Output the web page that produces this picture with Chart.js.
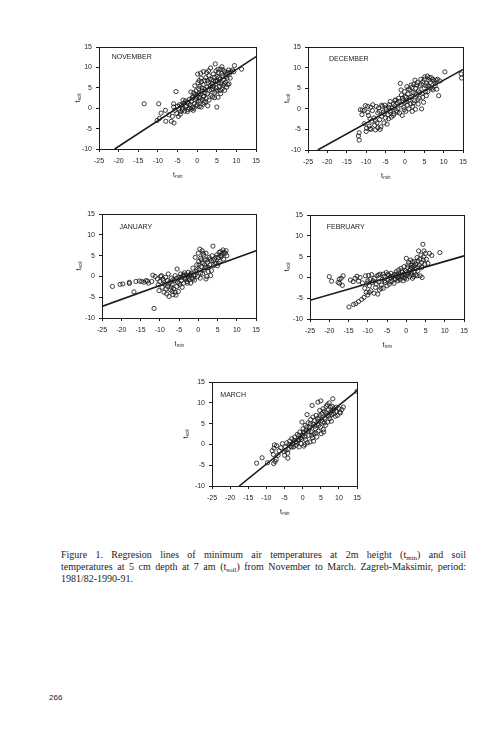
<!DOCTYPE html>
<html><head><meta charset="utf-8">
<script src="https://cdn.jsdelivr.net/npm/chart.js@4"></script>
<style>
html,body{margin:0;padding:0;background:#fff;}
body{width:504px;height:733px;position:relative;overflow:hidden;}
.box{position:absolute;}
.caption{position:absolute;left:61px;top:549px;width:405px;font-family:"Liberation Serif","Times New Roman",serif;font-size:10px;line-height:12px;color:#1c1c1c;}
.caption .j{text-align:justify;text-align-last:justify;}
.caption sub{font-size:7px;line-height:0;vertical-align:-2px;}
.page{position:absolute;left:49px;top:693px;font-family:"Liberation Sans",Arial,sans-serif;font-size:8px;color:#1c1c1c;}
</style></head>
<body>
<div class="caption">
<div class="j">Figure 1. Regresion lines of minimum air temperatures at 2m height (t<sub>min</sub>) and soil</div>
<div class="j">temperatures at 5 cm depth at 7 am (t<sub>soil</sub>) from November to March. Zagreb-Maksimir, period:</div>
<div>1981/82-1990-91.</div>
</div>
<div class="page">266</div>
<script>
const xTicks = [-25,-20,-15,-10,-5,0,5,10,15];
const yTicks = [-10,-5,0,5,10,15];
const months = ['NOVEMBER','DECEMBER','JANUARY','FEBRUARY','MARCH'];

const novPoints = [[-13.5,1.1],[-9.8,1.1],[-5.4,4.1],[-10.2,-3.0],[-9.6,-2.5],[-9.2,-1.2],[-8.1,-0.5],[-8.0,-3.2],[-6.6,-3.2],[-5.9,-3.6],[-6.3,-2.0],[-6.0,1.1],[-6.0,0.3],[-5.7,-0.5],[-5.2,-1.3],[-5.0,0.5],[-4.6,-0.2],[-4.3,-1.5],[-4.0,0.8],[-3.7,0.0],[-3.4,1.3],[-3.2,-0.7],[-3.0,1.8],[-2.7,0.6],[-2.5,1.5],[-2.3,-0.3],[-2.0,2.2],[-1.8,0.9],[-1.6,4.0],[-1.5,1.6],[-1.2,0.2],[-1.0,2.8],[-0.9,3.8],[-0.7,1.2],[-0.5,2.0],[-0.3,4.3],[-0.2,0.6],[0.0,3.0],[0.1,8.4],[0.2,6.3],[0.3,1.8],[0.4,4.8],[0.5,0.4],[0.6,2.6],[0.7,5.3],[0.8,3.5],[0.9,8.6],[1.0,0.3],[1.1,6.5],[1.2,2.2],[1.3,4.2],[1.5,5.8],[1.6,9.0],[1.7,3.0],[1.8,1.4],[1.9,6.8],[2.0,4.6],[2.2,7.5],[2.3,2.4],[2.5,5.2],[2.6,3.6],[2.8,6.2],[3.0,8.0],[3.1,4.4],[3.3,5.6],[3.4,9.9],[3.5,3.2],[3.7,7.0],[3.8,6.0],[4.0,4.8],[4.1,8.4],[4.2,5.4],[4.4,7.6],[4.5,3.8],[4.6,10.9],[4.7,6.6],[4.8,9.2],[4.9,5.0],[5.0,0.3],[5.1,7.8],[5.2,4.4],[5.3,2.7],[5.4,8.8],[5.5,6.2],[5.6,5.4],[5.8,7.2],[6.0,9.6],[6.1,6.0],[6.3,10.2],[6.4,4.8],[6.5,8.0],[6.6,5.6],[6.8,7.0],[7.0,9.0],[7.2,6.4],[7.4,8.4],[7.6,7.4],[7.8,5.8],[8.1,6.0],[8.0,9.4],[8.3,8.6],[8.6,9.0],[9.0,9.4],[9.3,9.0],[9.5,10.5],[11.3,9.6],[-2.0,0.0],[-1.0,-0.5],[-4.8,-2.0],[-7.2,-1.6],[0.0,0.8],[1.5,1.0],[2.7,0.6],[3.9,2.8],[6.0,3.6],[7.0,4.4],[-0.6,5.5],[2.4,8.8],
  [-4.5,0.9],[-3.8,-0.4],[-3.0,0.4],[-2.5,-0.8],[-1.5,-0.2],[-0.8,0.0],[-0.2,2.4],[0.4,3.6],[0.8,1.8],[1.2,5.0],[1.6,2.8],[2.0,3.8],[2.2,1.6],[2.6,6.8],[3.0,2.0],[3.3,7.2],[3.6,4.6],[3.9,5.4],[4.2,6.8],[4.4,2.6],[4.8,4.2],[5.0,6.6],[5.3,9.6],[5.6,7.6],[5.9,4.4],[6.2,8.6],[6.6,9.4],[6.9,6.0],[7.2,7.8],[7.5,5.2],[7.8,8.8],[8.4,7.4],[2.9,9.2],[1.0,7.4],[0.5,6.8],[-0.4,3.4],[-1.3,2.6],[-2.2,1.2],[-3.6,2.0],[-4.2,-0.8]];
const decPoints = [[-11.8,-5.8],[-11.8,-7.6],[-11.0,-0.3],[-11.1,-1.4],[-10.5,-0.4],[-9.6,0.6],[-8.3,1.0],[-9.6,-0.8],[-9.9,-4.7],[-9.2,-4.2],[-7.6,-5.1],[-8.6,-3.0],[-8.0,-2.2],[-8.4,-0.4],[-7.8,-4.0],[-7.2,-3.4],[-7.0,-1.0],[-6.8,0.2],[-6.5,-2.6],[-6.2,-4.4],[-6.0,-1.8],[-5.8,0.6],[-5.6,-0.8],[-5.4,-3.4],[-5.2,0.9],[-5.0,-2.2],[-4.8,-0.2],[-4.6,-3.7],[-4.4,-1.4],[-4.2,0.4],[-4.0,1.0],[-3.8,-0.8],[-3.5,-2.0],[-3.3,0.2],[-3.0,1.2],[-2.8,-1.2],[-2.6,0.8],[-2.4,2.2],[-2.2,-0.4],[-2.0,1.5],[-1.8,0.0],[-1.6,2.6],[-1.4,-1.0],[-1.2,6.2],[-1.0,1.0],[-0.9,3.4],[-0.7,-1.6],[-0.5,2.0],[-0.3,0.4],[-0.1,4.2],[0.0,1.6],[0.2,-0.6],[0.3,2.8],[0.5,5.4],[0.6,0.9],[0.8,3.6],[1.0,0.0],[1.1,2.2],[1.3,4.6],[1.5,1.2],[1.6,5.8],[1.8,3.0],[2.0,0.6],[2.1,4.0],[2.3,6.0],[2.5,2.0],[2.7,-0.1],[2.8,5.0],[3.0,3.4],[3.2,6.4],[3.4,1.2],[3.5,4.4],[3.7,2.6],[3.9,5.6],[4.1,7.2],[4.3,0.0],[4.4,3.8],[4.6,6.6],[4.8,1.6],[5.0,5.0],[5.1,7.8],[5.3,4.2],[5.5,3.2],[5.6,6.2],[5.8,8.0],[6.0,5.6],[6.2,7.0],[6.5,6.4],[6.8,7.6],[7.0,5.0],[7.2,4.6],[7.5,6.8],[7.8,5.6],[8.0,7.0],[8.4,7.2],[8.7,3.2],[9.0,6.8],[10.3,9.0],[14.5,8.5],[14.6,7.5],[-10.5,-3.6],[-9.0,-2.4],[-8.8,-5.0],[-10.0,-5.5],[-7.4,0.6],[-6.4,-5.0],[1.9,-0.6],[-0.2,-0.2],[-3.8,1.8],[2.6,7.0],
  [-9.4,-1.6],[-8.8,0.4],[-7.6,-2.8],[-7.0,-4.6],[-6.6,-0.6],[-6.0,0.9],[-5.4,-1.2],[-4.9,0.2],[-4.2,-2.4],[-3.6,-0.4],[-3.0,-1.6],[-2.6,2.0],[-2.0,-0.8],[-1.5,1.8],[-1.0,4.6],[-0.6,2.6],[0.0,3.0],[0.4,1.8],[0.9,4.8],[1.4,2.8],[1.8,5.2],[2.2,1.4],[2.6,3.8],[3.0,5.8],[3.3,2.2],[3.8,4.0],[4.2,6.0],[4.6,2.8],[5.0,7.2],[5.4,5.6],[5.9,4.2],[6.3,7.6],[6.6,5.2],[7.2,7.2],[7.8,6.2],[8.2,4.8],[-11.5,-0.2],[-10.2,0.8],[-12.0,-6.6],[-9.0,-4.8]];
const janPoints = [[-22.3,-2.4],[-20.3,-1.9],[-19.6,-1.8],[-17.9,-1.4],[-17.9,-1.7],[-16.7,-3.7],[-15.3,-1.1],[-14.7,-1.2],[-14.1,-1.4],[-13.2,-1.1],[-12.9,-1.6],[-12.1,-1.2],[-11.5,-7.7],[-11.2,0.0],[-10.6,-0.6],[-11.8,0.3],[-10.4,-2.0],[-10.2,-3.4],[-10.0,-1.2],[-9.6,0.2],[-9.4,-2.6],[-9.2,-0.6],[-8.9,-3.8],[-8.7,-1.8],[-8.5,-0.2],[-8.2,-4.2],[-8.0,-2.4],[-7.8,0.6],[-7.6,-4.8],[-7.4,-1.4],[-7.2,-3.2],[-7.0,-0.4],[-6.8,-2.0],[-6.6,-4.4],[-6.4,-3.0],[-6.2,-1.0],[-6.0,0.2],[-5.8,-4.5],[-5.6,-2.4],[-5.5,1.8],[-5.4,-1.4],[-5.2,-3.6],[-5.0,-0.2],[-4.8,-2.0],[-4.6,0.6],[-4.4,-1.0],[-4.2,-2.6],[-4.0,0.2],[-3.8,-1.6],[-3.6,0.9],[-3.4,-0.6],[-3.2,0.4],[-3.0,-1.2],[-2.8,0.0],[-2.6,1.0],[-2.4,-0.8],[-2.2,0.3],[-2.0,-1.6],[-1.8,0.8],[-1.6,-0.4],[-1.4,2.0],[-1.2,0.2],[-1.0,-0.9],[-0.8,4.6],[-0.6,1.2],[-0.4,2.8],[-0.2,0.0],[0.0,5.6],[0.1,3.6],[0.2,1.6],[0.4,6.6],[0.5,-0.4],[0.6,4.4],[0.8,2.4],[1.0,6.2],[1.1,0.6],[1.2,3.2],[1.4,5.2],[1.5,1.6],[1.7,4.0],[1.9,2.2],[2.0,5.6],[2.2,0.0],[2.4,3.4],[2.6,1.2],[2.8,4.6],[3.0,2.8],[3.2,0.2],[3.4,3.8],[3.6,5.0],[3.8,7.3],[4.0,2.6],[4.2,4.2],[4.5,3.2],[4.8,5.2],[5.0,2.6],[5.2,4.6],[5.4,5.8],[5.6,3.6],[5.8,6.0],[6.0,4.8],[6.2,5.4],[6.4,6.4],[6.6,4.2],[7.0,5.6],[7.2,6.2],[7.4,5.0],[-9.8,0.0],[-8.0,-1.0],[-6.8,-3.6],[-2.8,-1.6],[0.6,0.8],[2.0,-0.6],
  [-9.0,-1.0],[-8.4,-3.0],[-7.8,-1.8],[-7.0,-2.6],[-6.6,-0.8],[-6.0,-3.8],[-5.6,-0.4],[-5.0,-1.6],[-4.4,-0.2],[-3.8,0.4],[-3.2,-0.4],[-2.6,-0.4],[-2.0,0.6],[-1.4,-0.6],[-0.8,0.4],[-0.4,1.6],[0.2,2.8],[0.8,4.0],[1.2,5.6],[1.6,2.8],[2.2,4.0],[2.6,2.2],[3.0,4.2],[3.4,1.4],[4.0,3.8],[4.6,4.6],[5.2,3.2],[5.8,5.0],[6.6,5.8],[-16.2,-1.2],[-13.6,-1.0]];
const febPoints = [[-20.0,0.2],[-19.4,-0.9],[-17.7,-1.2],[-17.4,-0.4],[-17.3,-1.4],[-16.9,-0.2],[-16.6,-1.9],[-16.4,0.4],[-14.9,-7.1],[-13.7,-6.5],[-13.1,-6.3],[-12.4,-5.8],[-11.6,-5.3],[-14.5,-0.6],[-13.8,-1.0],[-13.3,-0.2],[-12.8,0.3],[-12.4,-0.9],[-12.0,0.0],[-11.4,-1.3],[-11.0,-4.8],[-10.8,-2.6],[-10.6,0.4],[-10.4,-3.6],[-10.2,-1.4],[-10.0,-4.2],[-9.8,0.5],[-9.6,-2.0],[-9.4,-0.5],[-9.2,-3.2],[-9.0,0.7],[-8.8,-1.2],[-8.4,-3.8],[-8.2,-0.2],[-8.0,-2.4],[-7.6,0.4],[-7.4,-4.0],[-7.2,-1.0],[-7.0,-3.0],[-6.8,0.8],[-6.5,-1.8],[-6.2,-0.4],[-6.0,-2.6],[-5.8,0.2],[-5.5,-1.2],[-5.2,1.2],[-5.0,-2.0],[-4.8,-0.6],[-4.6,0.6],[-4.4,-1.6],[-4.2,0.0],[-4.0,1.0],[-3.7,-0.9],[-3.4,0.4],[-3.2,-1.4],[-3.0,0.8],[-2.8,-0.4],[-2.6,1.4],[-2.4,0.0],[-2.2,-0.8],[-2.0,1.8],[-1.8,0.6],[-1.6,-0.6],[-1.4,2.2],[-1.2,0.2],[-1.0,1.2],[-0.8,-0.8],[-0.6,2.6],[-0.4,0.6],[-0.2,1.6],[0.0,4.6],[0.1,-0.4],[0.3,2.4],[0.5,1.0],[0.6,3.6],[0.8,0.2],[1.0,2.0],[1.1,4.2],[1.3,1.2],[1.4,3.0],[1.6,-0.2],[1.8,2.6],[2.0,1.4],[2.2,3.8],[2.4,0.6],[2.6,2.2],[2.8,4.8],[3.0,1.6],[3.2,6.4],[3.4,3.0],[3.6,0.4],[3.8,5.4],[4.0,2.4],[4.1,0.0],[4.3,8.0],[4.4,4.2],[4.6,6.4],[4.8,3.2],[5.0,5.8],[5.2,4.4],[5.6,3.4],[6.0,5.8],[6.6,5.3],[8.7,6.0],[-0.4,-0.2],[1.2,0.6],[2.8,0.4],[-10.0,-0.8],[-6.0,0.8],
  [-9.6,-3.6],[-8.6,-0.8],[-7.8,-1.6],[-7.2,0.6],[-6.6,-2.6],[-5.6,-0.8],[-4.8,0.8],[-4.2,-1.0],[-3.6,0.2],[-3.0,-0.4],[-2.4,0.8],[-1.8,-0.2],[-1.2,1.6],[-0.6,0.0],[0.0,1.2],[0.4,3.0],[0.9,1.6],[1.4,2.4],[1.9,0.2],[2.4,3.2],[3.0,2.6],[3.5,4.4],[4.0,3.6],[4.5,5.0],[3.0,4.0],[2.0,2.8],[1.6,3.8],[0.2,0.6],[-1.0,0.4],[-2.0,0.2]];
const marPoints = [[-12.7,-4.5],[-11.2,-3.2],[-9.7,-4.4],[-8.4,-1.5],[-7.9,-0.9],[-7.8,-0.1],[-7.2,-0.3],[-8.1,-2.4],[-7.6,-4.1],[-8.0,-4.6],[-7.3,-3.6],[-6.5,-1.5],[-5.2,-1.7],[-4.1,-3.3],[-4.1,-2.1],[15.0,12.8],[-6.0,-0.8],[-5.6,0.2],[-4.8,-0.6],[-4.4,0.4],[-4.0,-1.2],[-3.6,0.8],[-3.3,-0.4],[-3.0,1.4],[-2.8,0.2],[-2.5,-0.6],[-2.2,1.8],[-2.0,0.6],[-1.8,-0.2],[-1.5,2.4],[-1.2,1.0],[-1.0,-0.6],[-0.8,3.0],[-0.6,1.6],[-0.4,0.2],[-0.2,5.4],[0.0,2.2],[0.1,3.8],[0.3,-0.4],[0.5,2.8],[0.7,4.6],[0.8,1.2],[1.0,3.4],[1.2,7.2],[1.3,0.4],[1.5,5.2],[1.7,2.2],[1.9,4.0],[2.0,0.6],[2.2,6.0],[2.4,3.0],[2.6,9.4],[2.7,1.6],[2.9,4.8],[3.1,2.6],[3.3,5.8],[3.5,3.8],[3.7,7.0],[3.9,1.8],[4.1,5.0],[4.3,3.2],[4.5,6.4],[4.7,8.2],[4.9,4.2],[5.0,10.5],[5.1,2.6],[5.3,7.4],[5.5,5.4],[5.7,3.6],[5.9,8.0],[6.1,6.4],[6.3,4.6],[6.5,9.2],[6.7,7.0],[6.9,5.4],[7.1,8.4],[7.3,10.0],[7.5,6.2],[7.7,7.8],[7.9,5.6],[8.1,9.2],[8.3,11.0],[8.5,7.4],[8.7,8.6],[9.0,6.8],[9.3,8.0],[9.6,7.0],[10.0,8.6],[10.4,7.6],[10.8,8.4],[11.2,9.0],[-1.0,1.2],[0.6,0.0],[3.0,0.8],[-6.8,-2.6],[-5.0,-2.6],
  [-4.6,-1.4],[-3.8,0.0],[-3.0,-0.6],[-2.4,1.0],[-1.6,0.4],[-1.0,2.2],[-0.4,1.2],[0.2,3.0],[0.6,1.8],[1.1,4.2],[1.6,3.2],[2.1,5.0],[2.5,2.2],[2.8,6.6],[3.3,4.4],[3.7,2.8],[4.0,6.2],[4.4,4.6],[4.8,7.0],[5.2,5.8],[5.6,8.6],[6.0,5.2],[6.4,7.6],[6.8,9.6],[7.2,6.8],[7.6,9.0],[8.0,7.2],[8.4,8.2],[9.2,9.0],[10.2,7.8],[4.2,10.2],[5.8,3.0]];

const novLine = [[-21,-10],[15,12.7]];
const decLine = [[-22.5,-10],[15,9.6]];
const janLine = [[-25,-7.2],[15,6.2]];
const febLine = [[-25,-5.5],[15,5.2]];
const marLine = [[-17.5,-10],[15,13]];

const INK = '#1c1c1c';
const FONT = "'Liberation Sans', Arial, Helvetica, sans-serif";
const PADL = 40, PADT = 8, PADR = 8, PADB = 35;

// layout (pixel boxes) for each panel
const panels = [
  {name: months[0], pts: novPoints, line: novLine, area: [99, 47, 257, 149], lab: [12.7, 9.5], yt: 21},
  {name: months[1], pts: decPoints, line: decLine, area: [308, 47, 464, 150], lab: [21, 12], yt: 21},
  {name: months[2], pts: janPoints, line: janLine, area: [102, 214, 257, 318], lab: [17.6, 12.7], yt: 23},
  {name: months[3], pts: febPoints, line: febLine, area: [310, 215, 465, 319], lab: [16.7, 12.3], yt: 23},
  {name: months[4], pts: marPoints, line: marLine, area: [212, 382, 358, 486], lab: [8.3, 13.3], yt: 26}
];

const decor = {
  id: 'decor',
  afterDraw(chart, args, o) {
    const {ctx, chartArea: a} = chart;
    ctx.save();
    ctx.strokeStyle = INK; ctx.lineWidth = 1;
    ctx.strokeRect(Math.round(a.left) + 0.5, Math.round(a.top) + 0.5, Math.round(a.right - a.left), Math.round(a.bottom - a.top));
    ctx.fillStyle = INK;
    ctx.textBaseline = 'middle'; ctx.textAlign = 'left';
    ctx.font = '7px ' + FONT;
    ctx.fillText(o.name, a.left + o.lab[0], a.top + o.lab[1]);
    const cx = (a.left + a.right) / 2, by = a.bottom + 26;
    ctx.font = '7px ' + FONT;
    const tw = ctx.measureText('t').width;
    ctx.font = '4.5px ' + FONT;
    const sw = ctx.measureText('min').width;
    let x0 = cx - (tw + sw) / 2;
    ctx.font = '7px ' + FONT; ctx.fillText('t', x0, by);
    ctx.font = '4.5px ' + FONT; ctx.fillText('min', x0 + tw + 0.3, by + 2);
    ctx.translate(a.left - o.yt, (a.top + a.bottom) / 2);
    ctx.rotate(-Math.PI / 2);
    ctx.font = '4.5px ' + FONT;
    const sw2 = ctx.measureText('soil').width;
    x0 = -(tw + sw2) / 2;
    ctx.font = '7px ' + FONT; ctx.fillText('t', x0, 0);
    ctx.font = '4.5px ' + FONT; ctx.fillText('soil', x0 + tw + 0.3, 2);
    ctx.restore();
  }
};

function axis(ticksArr, isX) {
  const s = {
    type: 'linear',
    min: ticksArr[0], max: ticksArr[ticksArr.length - 1],
    afterBuildTicks: sc => { sc.ticks = ticksArr.map(v => ({value: v})); },
    grid: {drawOnChartArea: false, drawTicks: true, tickLength: 3, color: INK, lineWidth: 1},
    border: {display: false},
    ticks: {font: {family: FONT, size: 7}, color: INK, padding: isX ? 5 : 4, maxRotation: 0, autoSkip: false}
  };
  if (isX) s.afterFit = sc => { sc.height = PADB; };
  else s.afterFit = sc => { sc.width = PADL; };
  return s;
}

panels.forEach(p => {
  const w = p.area[2] - p.area[0], h = p.area[3] - p.area[1];
  const W = w + PADL + PADR, H = h + PADT + PADB;
  const box = document.createElement('div');
  box.className = 'box';
  box.style.left = (p.area[0] - PADL) + 'px';
  box.style.top = (p.area[1] - PADT) + 'px';
  box.style.width = W + 'px'; box.style.height = H + 'px';
  const cv = document.createElement('canvas');
  cv.width = W; cv.height = H;
  cv.style.width = W + 'px'; cv.style.height = H + 'px';
  box.appendChild(cv);
  document.body.appendChild(box);
  const chart = new Chart(cv, {
    type: 'scatter',
    data: {
      datasets: [
        {data: p.pts.map(([x, y]) => ({x, y})), pointRadius: 2.1, pointBorderWidth: 0.85,
         pointBorderColor: INK, pointBackgroundColor: 'rgba(255,255,255,0)', order: 1},
        {data: p.line.map(([x, y]) => ({x, y})), showLine: true, pointRadius: 0,
         borderColor: INK, borderWidth: 1.6, order: 2}
      ]
    },
    options: {
      responsive: false, maintainAspectRatio: false, animation: false,
      layout: {padding: {left: 0, top: PADT, right: PADR, bottom: 0}},
      plugins: {legend: {display: false}, tooltip: {enabled: false}, decor: p},
      scales: {x: axis(xTicks, true), y: axis(yTicks, false)}
    },
    plugins: [decor]
  });
  const a = chart.chartArea;
  box.style.left = (p.area[0] - a.left) + 'px';
  box.style.top = (p.area[1] - a.top) + 'px';
});
</script>
</body></html>
